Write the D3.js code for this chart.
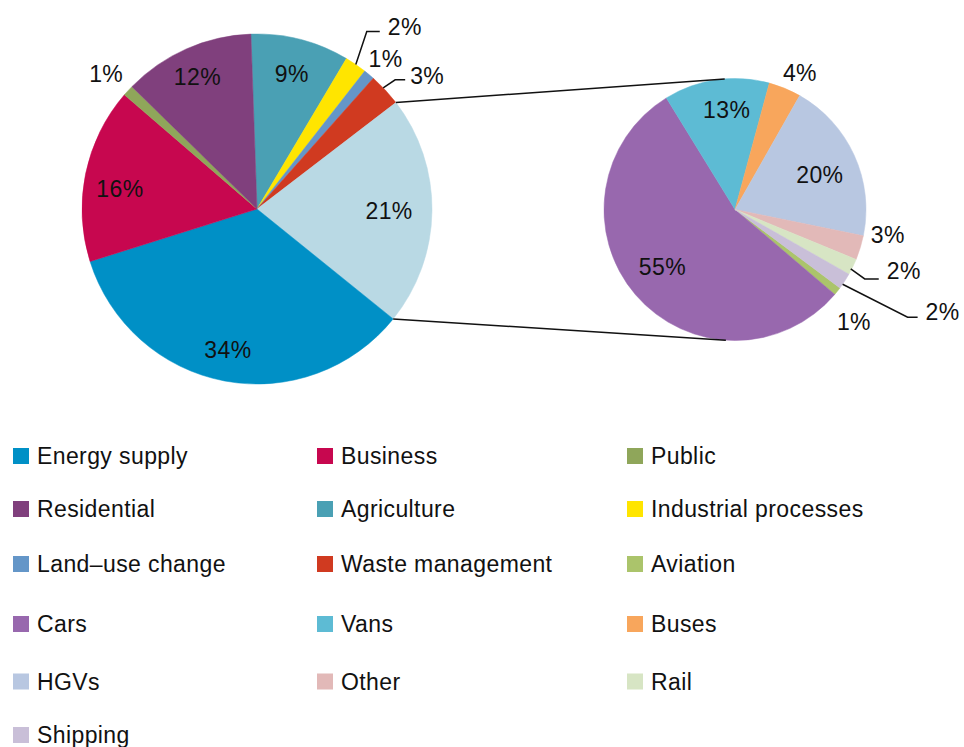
<!DOCTYPE html>
<html>
<head>
<meta charset="utf-8">
<script src="https://cdn.jsdelivr.net/npm/d3@7"></script>
<style>
body { margin: 0; background: #fff; }
text { font-family: "Liberation Sans", Arial, sans-serif; font-size: 23px; letter-spacing: 0.4px; fill: #111; }
</style>
</head>
<body>
<div id="chart"></div>
<script>
// left pie: all sectors, clockwise
var sectors = ["Agriculture", "Industrial processes", "Land–use change", "Waste management", "Transport", "Energy supply", "Business", "Public", "Residential"];
var sectorValues = [9, 2, 1, 3, 21, 34, 16, 1, 12];
var sectorColors = ["#4aa0b4", "#ffe500", "#6496c8", "#d03a20", "#b9d9e4", "#0090c6", "#c7074f", "#8fa65a", "#80407d"];

// right pie: transport breakdown, clockwise
var modes = ["Aviation", "Cars", "Vans", "Buses", "HGVs", "Other", "Rail", "Shipping"];
var modeValues = [1, 55, 13, 4, 20, 3, 2, 2];
var modeColors = ["#abc46b", "#9868ae", "#5dbbd4", "#f8a65c", "#b8c7e1", "#e2b9b8", "#d7e5c4", "#c9bfd8"];

var legendItems = ["Energy supply", "Business", "Public", "Residential", "Agriculture", "Industrial processes",
    "Land–use change", "Waste management", "Aviation", "Cars", "Vans", "Buses", "HGVs", "Other", "Rail", "Shipping"];

var svgwidth = 964, svgheight = 747;
var svg = d3.select("#chart").append("svg").attr("width", svgwidth).attr("height", svgheight);

var color = d3.scaleOrdinal().domain(sectors.concat(modes)).range(sectorColors.concat(modeColors));
var rad = function(deg) { return deg * Math.PI / 180; };

var left = {cx: 257, cy: 209, r: 175, start: -2};
var right = {cx: 735, cy: 209.5, r: 131, start: 126.8};

// label placement: k = radius factor, dx/dy nudges, leader = [elbow dx, elbow dy, run, gap, text dy]
var leftLabel = {
    "Agriculture": {k: 0.8},
    "Industrial processes": {k: 1, leader: [11, -33, 13, 8, -5]},
    "Land–use change": {k: 1.13, dx: 2, dy: 2},
    "Waste management": {k: 1, dx: -2, dy: -2, leader: [12, -8, 10, 5, -4]},
    "Transport": {k: 0.755},
    "Energy supply": {k: 0.8, dx: -3, dy: 3},
    "Business": {k: 0.8, dy: 8},
    "Public": {k: 1.17, dy: 3},
    "Residential": {k: 0.8, dx: -3, dy: -4}
};
var rightLabel = {
    "Aviation": {k: 1.22, dx: -6, dy: 13},
    "Cars": {k: 0.77, dx: 4, dy: -8},
    "Vans": {k: 0.77, dx: 6},
    "Buses": {k: 1.16, dx: 7, dy: 4},
    "HGVs": {k: 0.77, dx: -7, dy: 7},
    "Other": {k: 1.18, dx: 5, dy: -20},
    "Rail": {k: 1, dx: -2, dy: 2, leader: [14, 10, 14, 8, -8.5]},
    "Shipping": {k: 1, dx: -2, dy: 3, leader: [65, 33, 10, 8, -6]}
};

function drawPie(p, names, values, labels) {
    var pie = d3.pie().sort(null).value(d => d.v)
        .startAngle(rad(p.start)).endAngle(rad(p.start + 360));
    var arcs = pie(names.map((n, i) => ({name: n, v: values[i]})));
    var total = d3.sum(values);
    var g = svg.append("g").attr("transform", "translate(" + p.cx + "," + p.cy + ")");
    var arc = d3.arc().innerRadius(0).outerRadius(p.r);

    g.selectAll("path").data(arcs).enter().append("path")
        .attr("d", arc)
        .attr("fill", d => color(d.data.name))
        .attr("stroke", d => color(d.data.name))
        .attr("stroke-width", 0.5);

    arcs.forEach(function(d) {
        var L = labels[d.data.name];
        var rr = p.r * L.k;
        var c = d3.arc().innerRadius(rr).outerRadius(rr).centroid(d);
        var x = c[0] + (L.dx || 0), y = c[1] + (L.dy || 0);
        var txt = Math.round(d.data.v / total * 100) + "%";
        if (L.leader) {
            var a = L.leader;
            var ex = x + a[0], ey = y + a[1];
            g.append("path")
                .attr("d", d3.line()([[x, y], [ex, ey], [ex + a[2], ey]]))
                .attr("fill", "none").attr("stroke", "#111").attr("stroke-width", 1.5);
            g.append("text").attr("x", ex + a[2] + a[3]).attr("y", ey + a[4])
                .attr("dy", "0.36em").attr("text-anchor", "start").text(txt);
        } else {
            g.append("text").attr("x", x).attr("y", y)
                .attr("dy", "0.36em").attr("text-anchor", "middle").text(txt);
        }
    });
    return arcs;
}

var leftArcs = drawPie(left, sectors, sectorValues, leftLabel);
drawPie(right, modes, modeValues, rightLabel);

// connector lines from the transport slice to the breakdown pie
var tr = leftArcs.find(d => d.data.name == "Transport");
function pt(p, angle) { return [p.cx + p.r * Math.sin(angle), p.cy - p.r * Math.cos(angle)]; }
var conn = [[pt(left, tr.startAngle), pt(right, rad(-4.5))], [pt(left, tr.endAngle), pt(right, rad(184))]];
svg.selectAll("line.conn").data(conn).enter().append("line")
    .attr("class", "conn")
    .attr("x1", d => d[0][0]).attr("y1", d => d[0][1])
    .attr("x2", d => d[1][0]).attr("y2", d => d[1][1])
    .attr("stroke", "#111").attr("stroke-width", 1.5);

// legend
var colX = [13, 317, 627];
var rowY = [456, 509, 564, 624, 681.5, 735];
var leg = svg.selectAll("g.leg").data(legendItems).enter().append("g")
    .attr("class", "leg")
    .attr("transform", (d, i) => "translate(" + colX[i % 3] + "," + rowY[Math.floor(i / 3)] + ")");
leg.append("rect").attr("x", 0).attr("y", -8).attr("width", 16).attr("height", 16)
    .attr("fill", d => color(d));
leg.append("text").attr("x", 24).attr("y", 0).attr("dy", "0.36em").text(d => d);
</script>
</body>
</html>
